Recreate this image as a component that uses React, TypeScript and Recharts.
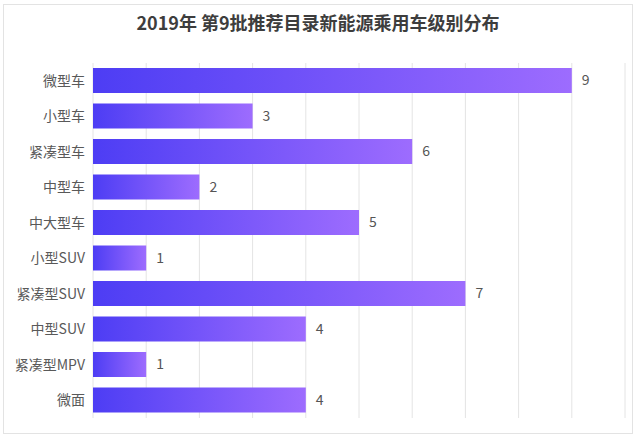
import React from "react";
import { Bar, BarChart, CartesianGrid, LabelList, XAxis, YAxis } from "recharts";

const categories = [
  "微型车",
  "小型车",
  "紧凑型车",
  "中型车",
  "中大型车",
  "小型SUV",
  "紧凑型SUV",
  "中型SUV",
  "紧凑型MPV",
  "微面",
];
const counts = [9, 3, 6, 2, 5, 1, 7, 4, 1, 4];
const xTicks = [0, 1, 2, 3, 4, 5, 6, 7, 8, 9, 10];

const data = categories.map((name, i) => ({ name, value: counts[i] }));

const font = '"Noto Sans CJK SC", "Noto Sans", sans-serif';

export default function App() {
  return (
    <div
      style={{
        position: "absolute",
        left: 0,
        top: 0,
        width: 640,
        height: 438,
        background: "#fff",
        fontFamily: font,
      }}
    >
      <div
        style={{
          position: "absolute",
          left: 3,
          top: 4,
          width: 628,
          height: 428,
          border: "1px solid #e3e3e3",
        }}
      />
      <div
        style={{
          position: "absolute",
          top: 8,
          left: 0,
          width: 636,
          textAlign: "center",
          fontSize: 18,
          fontWeight: 700,
          color: "#3d3d3d",
          lineHeight: "28px",
        }}
      >
        2019年 第9批推荐目录新能源乘用车级别分布
      </div>
      <div style={{ position: "absolute", left: 0, top: 0 }}>
        <BarChart
          width={640}
          height={438}
          data={data}
          layout="vertical"
          margin={{ top: 63, right: 15, bottom: 20, left: 0 }}
          barSize={25}
        >
          <defs>
            <linearGradient id="barFill" x1="0" y1="0" x2="1" y2="0">
              <stop offset="0%" stopColor="#4d3df4" />
              <stop offset="100%" stopColor="#9d6cfe" />
            </linearGradient>
          </defs>
          <CartesianGrid horizontal={false} stroke="#e4e4e4" />
          <XAxis type="number" domain={[0, 10]} ticks={xTicks} hide />
          <YAxis
            type="category"
            dataKey="name"
            width={93}
            tickLine={false}
            axisLine={false}
            tickSize={0}
            tickMargin={8}
            tick={{ fill: "#595959", fontSize: 14, fontFamily: font }}
            interval={0}
          />
          <Bar dataKey="value" fill="url(#barFill)" isAnimationActive={false}>
            <LabelList
              dataKey="value"
              position="right"
              offset={10}
              fill="#555"
              fontSize={14}
              fontFamily={font}
            />
          </Bar>
        </BarChart>
      </div>
    </div>
  );
}
